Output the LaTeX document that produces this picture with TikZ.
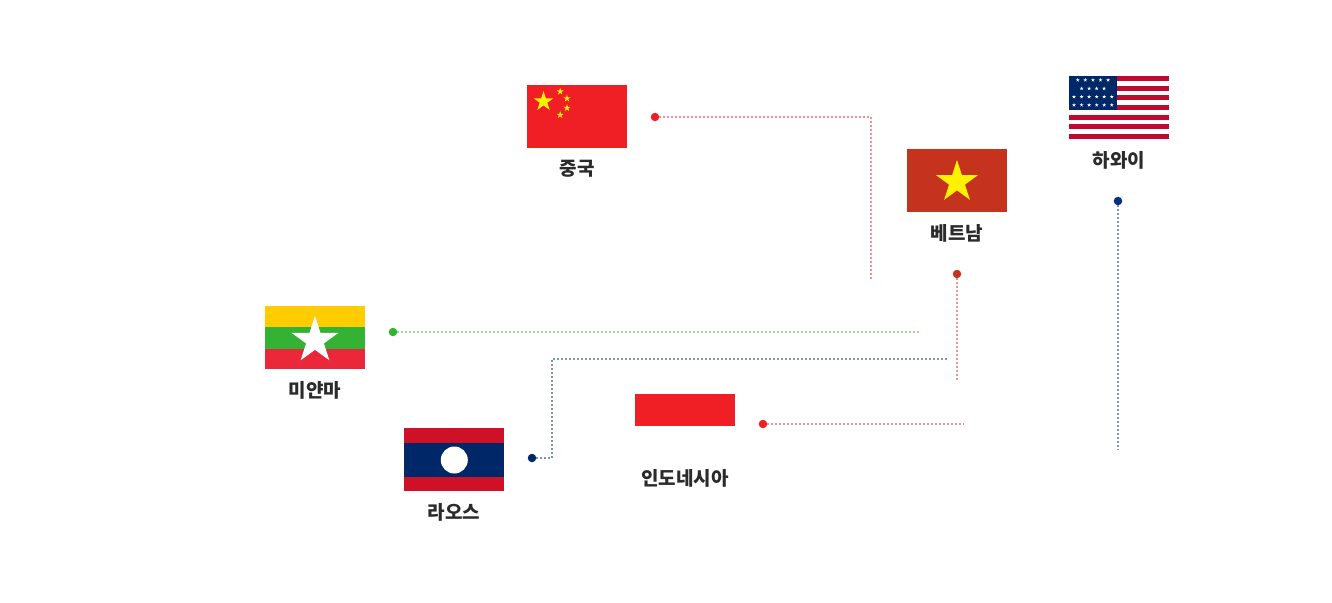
\documentclass[tikz,border=0pt]{standalone}
\usepackage{fontspec}
\setmainfont{Noto Sans CJK KR}
\usetikzlibrary{positioning}
\usetikzlibrary{shapes.geometric}

\definecolor{cnred}{HTML}{F01E25}
\definecolor{vnred}{HTML}{C5331F}
\definecolor{mmyellow}{HTML}{FFCC00}
\definecolor{mmgreen}{HTML}{34B233}
\definecolor{mmred}{HTML}{EA2839}
\definecolor{lared}{HTML}{CE1126}
\definecolor{lablue}{HTML}{002868}
\definecolor{usred}{HTML}{BF0A30}
\definecolor{hiblue}{HTML}{002F87}
\definecolor{labelgray}{HTML}{2B2B2B}

\tikzset{
  flag/.style={inner sep=0pt, minimum width=100pt, minimum height=63pt, fill=#1},
  country/.style={inner sep=0pt, font=\fontsize{19}{22}\selectfont\bfseries, text=labelgray},
  pin/.style={circle, inner sep=0pt, minimum size=8.5pt, fill=#1},
  route/.style={draw=#1, line width=1.7pt, dash pattern=on 2pt off 2pt, draw opacity=0.5},
  flagstar/.style={star, star points=5, star point ratio=2.618, inner sep=0pt, minimum size=#1}
}

\begin{document}
\begin{tikzpicture}[x=1pt, y=-1pt]
\useasboundingbox (0,0) rectangle (1332,602);

% China
\node[flag=cnred] (china) at (577,116.5) {};
\node[flagstar=21pt, fill=yellow] (bigstar) at (543.5,101.5) {};
\node[flagstar=7.5pt, fill=yellow] (cnstara) at (560.2,91.5) {};
\node[flagstar=7.5pt, fill=yellow] (cnstarb) at (567,98.5) {};
\node[flagstar=7.5pt, fill=yellow] (cnstarc) at (567,108) {};
\node[flagstar=7.5pt, fill=yellow] (cnstard) at (560.2,115) {};
\node[country] (chinalabel) at (577,169) {중국};

% Vietnam
\node[flag=vnred] (vietnam) at (957,180.5) {};
\node[flagstar=44pt, fill=yellow] (vnstar) at (957,182) {};
\node[country] (vietnamlabel) at (957,233) {베트남};

% Hawaii
\node[flag=white, anchor=north west] (hawaii) at (1069,76) {};
\foreach \i in {0,2,4,6,8,10,12} {
  \fill[usred] (1069,76+4.846*\i) rectangle (1169,76+4.846*\i+4.846);
}
\fill[lablue] (1069,76) rectangle (1117,110);
\foreach \x in {0,1,2,3,4} {
  \node[flagstar=4pt, fill=white] at (1077.7+7.6*\x,80) {};
}
\foreach \x in {0,1,2,3} {
  \node[flagstar=4pt, fill=white] at (1081.6+7.5*\x,88.5) {};
}
\foreach \y in {96.8,105} {
  \foreach \x in {0,1,2,3,4,5} {
    \node[flagstar=4pt, fill=white] at (1074+7.55*\x,\y) {};
  }
}
\node[country] (hawaiilabel) at (1119,160) {하와이};

% Myanmar
\node[flag=mmgreen] (myanmar) at (315,337.5) {};
\fill[mmyellow] (265,306) rectangle (365,327);
\fill[mmred] (265,349) rectangle (365,369);
\node[flagstar=49pt, fill=white] (mmstar) at (315,340.5) {};
\node[country] (myanmarlabel) at (315,390) {미얀마};

% Laos
\node[flag=lablue] (laos) at (454,459.5) {};
\fill[lared] (404,428) rectangle (504,443);
\fill[lared] (404,477) rectangle (504,491.3);
\node[circle, inner sep=0pt, minimum size=27pt, fill=white] (lamoon) at (454.3,460) {};
\node[country] (laoslabel) at (454,512) {라오스};

% Indonesia
\node[flag=cnred, minimum height=32pt] (indonesia) at (685,410) {};
\node[country] (indonesialabel) at (685,478) {인도네시아};

% pins
\node[pin=cnred] (chinapin) at (655,117) {};
\node[pin=vnred] (vietnampin) at (957,274) {};
\node[pin=hiblue] (hawaiipin) at (1118,201) {};
\node[pin=mmgreen] (myanmarpin) at (393,332) {};
\node[pin=lablue] (laospin) at (532,458) {};
\node[pin=cnred] (indonesiapin) at (763,424) {};

% free ends
\coordinate (chinaend) at (871,279);
\coordinate (vietnamend) at (957,382);
\coordinate (hawaiiend) at (1118,450);
\coordinate (myanmarend) at (920,332);
\coordinate (laosend) at (947,359);
\coordinate (indonesiaend) at (964,424);

% routes
\draw[route=cnred] (chinapin) -| (chinaend);
\draw[route=vnred] (vietnampin) -- (vietnamend);
\draw[route=hiblue] (hawaiipin) -- (hawaiiend);
\draw[route=mmgreen] (myanmarpin) -- (myanmarend);
\draw[route=lablue] (laospin) -| (552,359) -- (laosend);
\draw[route=cnred] (indonesiapin) -- (indonesiaend);

\end{tikzpicture}
\end{document}
